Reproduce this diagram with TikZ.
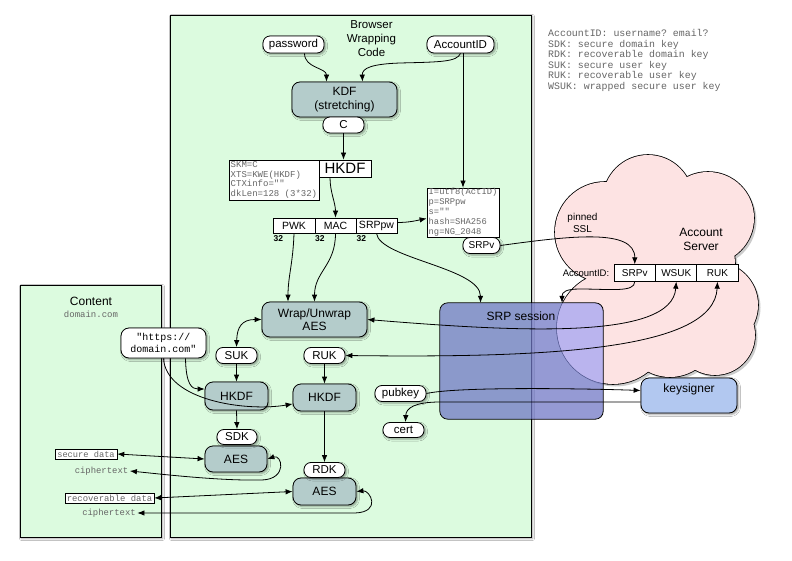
\documentclass[tikz,border=0pt]{standalone}
\usepackage{fontspec}
\setmainfont{Liberation Sans}
\setmonofont{Liberation Mono}
\usetikzlibrary{arrows.meta,calc,shadows,shadows.blur}
\definecolor{panel}{HTML}{DCFBDF}
\definecolor{boxfill}{HTML}{B4CCCB}
\definecolor{cloudc}{HTML}{FDE3E3}
\definecolor{keyc}{HTML}{B2C8F0}
\definecolor{srpc}{HTML}{7078C5}
\definecolor{lav}{HTML}{BAB4EE}
\definecolor{monog}{HTML}{666666}
\newcommand\fsz[2]{\fontsize{#1}{#2}\selectfont}
\def\cloudshape{(605,232) circle[radius=50] (648,200) circle[radius=45] (708,218) circle[radius=46] (715,305) circle[radius=43] (613,328) circle[radius=56] (715,335) circle[radius=40] (670,330) circle[radius=47] (665,265) circle[radius=70]}
\tikzset{
  >={Latex[length=7pt,width=5.5pt]},
  conn/.style={line width=0.8pt, black},
  shad/.style={blur shadow={shadow xshift=1.5pt, shadow yshift=-1.5pt, shadow blur radius=2pt}},
  panelbox/.style={draw, line width=0.8pt, fill=panel, inner sep=0pt, shad},
  pill/.style={draw, line width=0.8pt, fill=white, rounded corners=7pt, inner sep=0pt, minimum height=16pt, font=\fsz{11.5}{13}, shad},
  tbox/.style={draw, line width=0.8pt, fill=boxfill, rounded corners=8pt, inner sep=0pt, align=center, font=\fsz{12}{13.5}, shad},
  cell/.style={draw, line width=0.8pt, fill=white, inner sep=0pt, font=\fsz{10.5}{12}},
  mono/.style={font=\ttfamily\fsz{9}{9.8}, text=monog, align=left, inner sep=0pt},
  lbl/.style={inner sep=0pt, align=center},
  num/.style={inner sep=0pt, anchor=west, font=\bfseries\fsz{8.5}{9}},
}
\begin{document}
\begin{tikzpicture}[x=1pt,y=-1pt]
\path[use as bounding box, fill=white] (0,0) rectangle (792,561);

% panels
\node[panelbox, minimum width=361pt, minimum height=522pt] (browser) at (350.5,276) {};
\node[panelbox, minimum width=141pt, minimum height=252pt] (content) at (90.5,411) {};
\node[lbl, font=\fsz{11.5}{14}] (btitle) at (371.5,39) {Browser\\Wrapping\\Code};
\node[lbl, font=\fsz{12}{13}] (ctitle) at (91,301) {Content};
\node[lbl, font=\ttfamily\fsz{9}{10}, text=monog] (cdomain) at (91,314.5) {domain.com};

% legend
\node[anchor=west, font=\ttfamily\fsz{9.9}{10.6}, text=monog, align=left, inner sep=0pt] (legend) at (548,60.5)
 {AccountID: username? email?\\SDK: secure domain key\\RDK: recoverable domain key\\SUK: secure user key\\RUK: recoverable user key\\WSUK: wrapped secure user key};

% cloud
\fill[gray!40, shift={(2.5,2.5)}] \cloudshape;
\draw[line width=1.6pt, fill=cloudc] \cloudshape;
\fill[cloudc] \cloudshape;
\node[lbl, font=\fsz{12}{14}] (aslabel) at (701,239) {Account\\Server};
\node[lbl, font=\fsz{10}{12}] (pinned) at (582.5,222.5) {pinned\\SSL};
\node[lbl, font=\fsz{9.5}{11}] (asacct) at (586,273) {AccountID:};
\node[cell, minimum width=41.5pt, minimum height=16.5pt, font=\fsz{10}{12}] (assrpv) at (634.75,273) {SRPv};
\node[cell, minimum width=41.5pt, minimum height=16.5pt, font=\fsz{10}{12}] (aswsuk) at (676.25,273) {WSUK};
\node[cell, minimum width=41.5pt, minimum height=16.5pt, font=\fsz{10}{12}] (asruk) at (717.5,273) {RUK};

% SRP session
\node[draw=none, fill=srpc, fill opacity=0.74, rounded corners=8pt, minimum width=163pt, minimum height=116pt, inner sep=0pt] (srp) at (521.5,361) {};
\begin{scope}
  \clip \cloudshape;
  \fill[lav, rounded corners=8pt] (srp.south west) rectangle (srp.north east);
\end{scope}
\draw[line width=0.8pt, rounded corners=8pt] (srp.south west) rectangle (srp.north east);
\node[lbl, font=\fsz{12}{13}] (srplbl) at (521,316) {SRP session};

% keysigner
\node[tbox, fill=keyc, minimum width=96pt, minimum height=35pt] (keys) at (689,395.5) {};
\node[lbl, font=\fsz{12}{13}] (keyslbl) at (689,389) {keysigner};

% top part
\node[pill, minimum width=61pt, minimum height=17pt] (pw) at (293.5,44.5) {password};
\node[pill, minimum width=67pt, minimum height=17pt] (acct) at (460.5,44.5) {AccountID};
\node[tbox, minimum width=105pt, minimum height=35pt] (kdf) at (344.5,99.5) {KDF\\(stretching)};
\node[pill, minimum width=41pt] (c) at (343.5,125) {C};
\node[cell, minimum width=52pt, minimum height=17pt, font=\fsz{15}{16}] (hkdf) at (345,168.5) {HKDF};
\node[draw, line width=0.8pt, fill=white, minimum width=90pt, minimum height=40pt, inner sep=0pt] (hkdfp) at (274,180) {};
\node[mono, anchor=west] (hkdfptext) at (230.5,180) {SKM=C\\XTS=KWE(HKDF)\\CTXinfo=""\\dkLen=128 (3*32)};
\node[cell, minimum width=42pt, minimum height=15pt] (pwk) at (294,225.5) {PWK};
\node[cell, minimum width=41pt, minimum height=15pt] (mac) at (335.5,225.5) {MAC};
\node[cell, minimum width=41pt, minimum height=15pt] (srppw) at (376.5,225.5) {SRPpw};
\node[num] (n32a) at (273.5,239) {32};
\node[num] (n32b) at (315,239) {32};
\node[num] (n32c) at (356.5,239) {32};
\node[draw, line width=0.8pt, fill=white, minimum width=72pt, minimum height=49pt, inner sep=0pt] (params) at (463,212.5) {};
\node[mono, anchor=west, font=\ttfamily\fsz{8.8}{10}] (paramstext) at (428.5,212) {I=utf8(ActID)\\p=SRPpw\\s=""\\hash=SHA256\\ng=NG\_2048};
\node[pill, minimum width=37pt, font=\fsz{10}{12}] (srpvp) at (481.5,245.5) {SRPv};

% middle
\node[tbox, minimum width=105pt, minimum height=35pt] (wrap) at (314.5,319.5) {Wrap/Unwrap\\AES};
\node[draw, line width=0.8pt, fill=white, rounded corners=8pt, minimum width=85pt, minimum height=30pt, inner sep=0pt, align=center, font=\ttfamily\fsz{10}{12}, shad] (https) at (163.5,343) {"https://\\domain.com"};
\node[pill, minimum width=41pt] (suk) at (236.5,355.5) {SUK};
\node[pill, minimum width=41pt] (ruk) at (324.5,355.5) {RUK};
\node[tbox, minimum width=63pt, minimum height=28pt] (hkdf1) at (236.5,396) {HKDF};
\node[tbox, minimum width=63pt, minimum height=27pt] (hkdf2) at (324.5,397.5) {HKDF};
\node[pill, minimum width=51pt] (pub) at (400.5,393.5) {pubkey};
\node[pill, minimum width=41pt, minimum height=15pt] (cert) at (403.5,430) {cert};

% bottom
\node[tbox, minimum width=62pt, minimum height=26pt] (aes1) at (236,459) {AES};
\node[pill, minimum width=40pt, minimum height=15pt] (sdk) at (237,437) {SDK};
\node[tbox, minimum width=63pt, minimum height=27pt] (aes2) at (324.5,491.5) {AES};
\node[pill, minimum width=41pt, minimum height=15pt] (rdk) at (324.5,470) {RDK};
\node[draw, line width=0.6pt, fill=white, minimum width=62pt, minimum height=10pt, inner sep=0pt, font=\ttfamily\fsz{8.7}{9}, text=monog] (secure) at (86,454) {secure data};
\node[draw, line width=0.6pt, fill=white, minimum width=89pt, minimum height=10pt, inner sep=0pt, font=\ttfamily\fsz{8.9}{9}, text=monog] (recov) at (109.5,498) {recoverable data};
\node[inner sep=1.5pt, font=\ttfamily\fsz{8.9}{9}, text=monog] (ct1) at (101.5,471) {ciphertext};
\node[inner sep=1.5pt, font=\ttfamily\fsz{8.9}{9}, text=monog] (ct2) at (109,513) {ciphertext};

% connectors
\draw[conn,->] ($(pw.south)+(11,0)$) .. controls +(0,15) and +(0,-14) .. ($(kdf.north)+(-18,0)$);
\draw[conn,->] (acct.south) .. controls (457,62) and (440,62) .. (400,63) .. controls (372,64) and (362,68) .. ($(kdf.north)+(18,0)$);
\draw[conn,->] (acct.south -| params.north) -- (params.north);
\draw[conn,->] (c.south) -- (c.south |- hkdf.north);
\draw[conn,->] ($(hkdf.south)+(-15,0)$) .. controls +(0,15) and +(0,-15) .. (mac.north);
\draw[conn,->] ($(srppw.east)+(0,-3)$) .. controls +(12,0) and +(-10,2) .. ($(params.west)+(0,6)$);
\draw[conn,->] (pwk.south) .. controls +(-1,30) and +(0,-25) .. ($(wrap.north)+(-26.5,0)$);
\draw[conn,->] (mac.south) .. controls +(0,32) and +(0,-30) .. (wrap.north);
\draw[conn,->] (srppw.south) .. controls +(3,25) and +(0,-35) .. ($(srp.north)+(-41,0)$);
\draw[conn,->] (srpvp.east) .. controls (570,236) and (635,228) .. (assrpv.north);
\draw[conn,->] (assrpv.south) .. controls +(0,11) and (610,289) .. (580,289) .. controls (566,289) and (562,292) .. ($(srp.north)+(40.5,0)$);
\draw[conn,<->] (wrap.east) .. controls (520,332) and (672,340) .. (aswsuk.south);
\draw[conn,<->] (ruk.east) .. controls (550,358) and (714,350) .. (asruk.south);
\draw[conn,<->] (wrap.west) .. controls (242,319.5) and (237,327) .. (suk.north);
\draw[conn,->] (suk.south) -- (hkdf1.north);
\draw[conn,->] (ruk.south) -- (hkdf2.north);
\draw[conn,->] ($(https.south)+(22,0)$) .. controls (186,385) and (192,389) .. ($(hkdf1.west)+(0,-7)$);
\draw[conn,->] (https.south) .. controls (166,400) and (245,412) .. ($(hkdf2.west)+(0,6.5)$);
\draw[conn,->] (hkdf1.south) -- (sdk.north);
\draw[conn,->] (hkdf2.south) -- (rdk.north);
\draw[conn,<->] (secure.east) -- (aes1.west);
\draw[conn,<->] (aes1.east) .. controls (282,454) and (288,479) .. (262,480) .. controls (220,481) and (160,474) .. (ct1.east);
\draw[conn,<->] (recov.east) -- (aes2.west);
\draw[conn,<->] (aes2.east) .. controls (370,490) and (382,512) .. (355,513) -- (ct2.east);
\draw[conn,->] (pub.east) .. controls (460,386) and (600,389) .. ($(keys.west)+(0,-5)$);
\draw[conn,->] ($(keys.west)+(0,6.5)$) -- (440,402) .. controls (415,402) and (406,408) .. ($(cert.north)+(2,0)$);
\end{tikzpicture}
\end{document}
